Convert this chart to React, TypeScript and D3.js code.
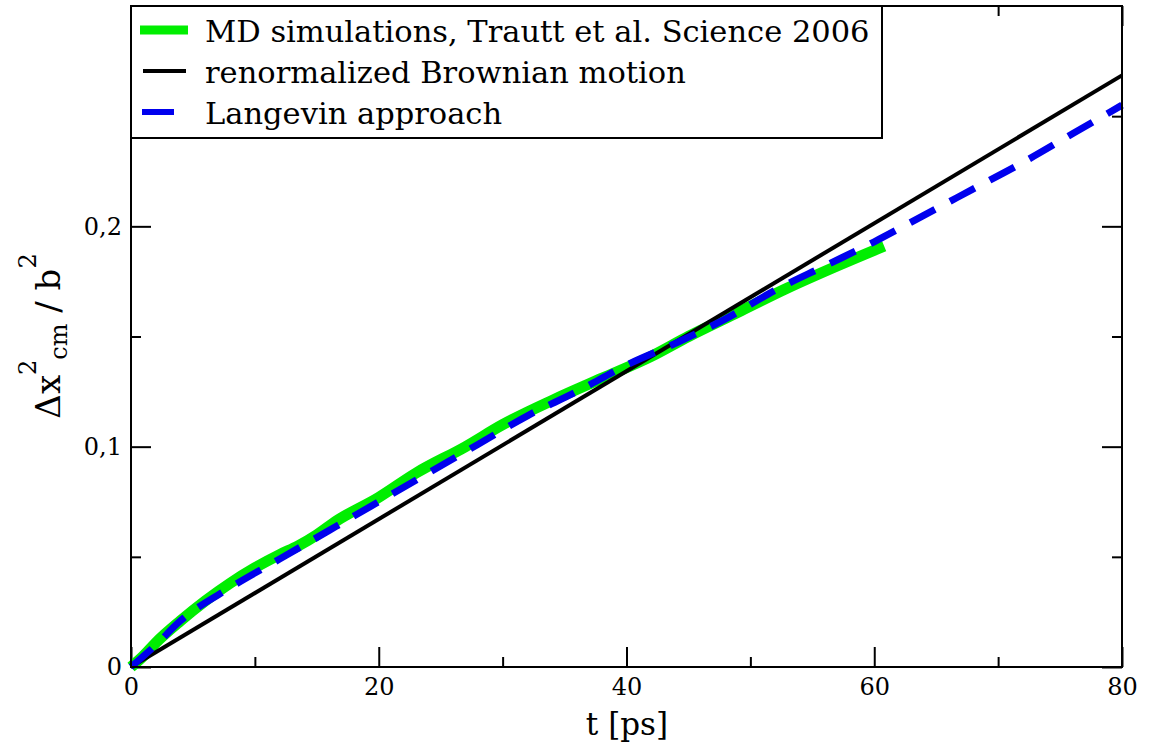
import React, { useEffect, useRef } from "react"
import * as d3 from "d3"

// MD simulations (Trautt et al.)
const mdTime = [0, 1, 2, 4, 6, 8, 10, 12, 13.5, 15, 16.5, 20, 23, 27, 30, 34, 38, 42, 45, 49, 53, 57, 60.8]
const mdValue = [0, 0.005, 0.011, 0.021, 0.030, 0.038, 0.045, 0.051, 0.055, 0.060, 0.066, 0.077, 0.088, 0.100, 0.110, 0.121, 0.131, 0.141, 0.150, 0.161, 0.172, 0.182, 0.191]

// renormalized Brownian motion (straight line)
const brownTime = [0, 80]
const brownValue = [0, 0.2685]

// Langevin approach
const langevinTime = [0, 2, 4, 8, 12, 16, 20, 24, 28, 32, 36, 40, 44, 48, 52, 56, 60, 64, 68, 72, 76, 80]
const langevinValue = [0, 0.010, 0.021, 0.036, 0.049, 0.062, 0.075, 0.088, 0.101, 0.114, 0.125, 0.137, 0.147, 0.158, 0.171, 0.182, 0.193, 0.205, 0.217, 0.229, 0.242, 0.255]

const xTicks = [0, 20, 40, 60, 80]
const xMinor = [10, 30, 50, 70]
const yTicks = [0, 0.1, 0.2]
const yMinor = [0.05, 0.15, 0.25]
const legendLabels = ["MD simulations, Trautt et al. Science 2006", "renormalized Brownian motion", "Langevin approach"]

const serif = "'DejaVu Serif', serif"

export default function App() {
  const ref = useRef<SVGSVGElement>(null)

  useEffect(() => {
    var svg = d3.select(ref.current)
    svg.selectAll("*").remove()

    var margin = { top: 6, left: 131 },
      width = 991,
      height = 661

    var x = d3.scaleLinear().domain([0, 80]).range([0, width])
    var y = d3.scaleLinear().domain([0, 0.3]).range([height, 0])

    var chart = svg.append("g")
      .attr("transform", "translate(" + margin.left + "," + margin.top + ")")

    var fmt = (d: number) => d === 0 ? "0" : d3.format(".1f")(d).replace(".", ",")

    function styleAxis(g: any) {
      g.attr("font-family", serif).attr("font-size", 24)
      g.select(".domain").remove()
      g.selectAll("line").attr("stroke", "#000").attr("stroke-width", 2)
      g.selectAll("text").attr("fill", "#000")
    }

    // major + minor ticks, inside, on all four sides
    chart.append("g").attr("transform", "translate(0," + height + ")")
      .call(d3.axisBottom(x).tickValues(xTicks).tickSize(-20).tickPadding(11).tickFormat((d: any) => String(d)))
      .call(styleAxis)
    chart.append("g").attr("transform", "translate(0," + height + ")")
      .call(d3.axisBottom(x).tickValues(xMinor).tickSize(-10).tickFormat(() => ""))
      .call(styleAxis)
    chart.append("g")
      .call(d3.axisTop(x).tickValues(xTicks).tickSize(-20).tickFormat(() => ""))
      .call(styleAxis)
    chart.append("g")
      .call(d3.axisTop(x).tickValues(xMinor).tickSize(-10).tickFormat(() => ""))
      .call(styleAxis)
    chart.append("g")
      .call(d3.axisLeft(y).tickValues(yTicks).tickSize(-20).tickPadding(9).tickFormat((d: any) => fmt(d)))
      .call(styleAxis)
    chart.append("g")
      .call(d3.axisLeft(y).tickValues(yMinor).tickSize(-10).tickFormat(() => ""))
      .call(styleAxis)
    chart.append("g").attr("transform", "translate(" + width + ",0)")
      .call(d3.axisRight(y).tickValues(yTicks).tickSize(-20).tickFormat(() => ""))
      .call(styleAxis)
    chart.append("g").attr("transform", "translate(" + width + ",0)")
      .call(d3.axisRight(y).tickValues(yMinor).tickSize(-10).tickFormat(() => ""))
      .call(styleAxis)

    var line = d3.line<[number, number]>()
      .x(d => x(d[0]))
      .y(d => y(d[1]))
      .curve(d3.curveMonotoneX)

    chart.append("path")
      .datum(mdTime.map((t, i) => [t, mdValue[i]] as [number, number]))
      .attr("d", line)
      .attr("fill", "none")
      .attr("stroke", "#00ee00")
      .attr("stroke-width", 11)

    chart.append("path")
      .datum(brownTime.map((t, i) => [t, brownValue[i]] as [number, number]))
      .attr("d", line)
      .attr("fill", "none")
      .attr("stroke", "#000")
      .attr("stroke-width", 4)

    chart.append("path")
      .datum(langevinTime.map((t, i) => [t, langevinValue[i]] as [number, number]))
      .attr("d", line)
      .attr("fill", "none")
      .attr("stroke", "#0000ee")
      .attr("stroke-width", 7)
      .attr("stroke-dasharray", "28 17")

    // frame
    chart.append("rect")
      .attr("width", width)
      .attr("height", height)
      .attr("fill", "none")
      .attr("stroke", "#000")
      .attr("stroke-width", 2)

    // legend
    var legend = svg.append("g")
    legend.append("rect")
      .attr("x", 131).attr("y", 6)
      .attr("width", 751).attr("height", 132)
      .attr("fill", "#fff").attr("stroke", "#000").attr("stroke-width", 2)

    var legendStyle = [
      { color: "#00ee00", w: 9, x1: 140, x2: 188 },
      { color: "#000", w: 4, x1: 143, x2: 186 },
      { color: "#0000ee", w: 6, x1: 142, x2: 174 },
    ]
    legendLabels.forEach((label, i) => {
      var cy = 30 + i * 41
      var s = legendStyle[i]
      legend.append("line")
        .attr("x1", s.x1).attr("x2", s.x2)
        .attr("y1", cy).attr("y2", cy)
        .attr("stroke", s.color).attr("stroke-width", s.w)
      legend.append("text")
        .attr("x", 205)
        .attr("y", cy + 12)
        .style("font-family", serif)
        .style("font-size", "30.5px")
        .attr("fill", "#000")
        .text(label)
    })

    // axis titles
    svg.append("text")
      .attr("x", 627)
      .attr("y", 735)
      .attr("text-anchor", "middle")
      .style("font-family", serif)
      .style("font-size", "31px")
      .text("t [ps]")

    var yt = svg.append("text")
      .attr("transform", "translate(60,336) rotate(-90)")
      .attr("text-anchor", "middle")
      .style("font-family", serif)
      .style("font-size", "34px")
    yt.append("tspan").text("\u0394x")
    yt.append("tspan").style("font-size", "24px").attr("dy", -24).text("2")
    yt.append("tspan").style("font-size", "24px").attr("dy", 31).text("cm")
    yt.append("tspan").attr("dy", -7).text(" / b")
    yt.append("tspan").style("font-size", "24px").attr("dy", -24).text("2")
  }, [])

  return (
    <svg ref={ref} width={1153} height={742}
      style={{ position: "absolute", left: 0, top: 0, background: "#fff" }} />
  )
}
